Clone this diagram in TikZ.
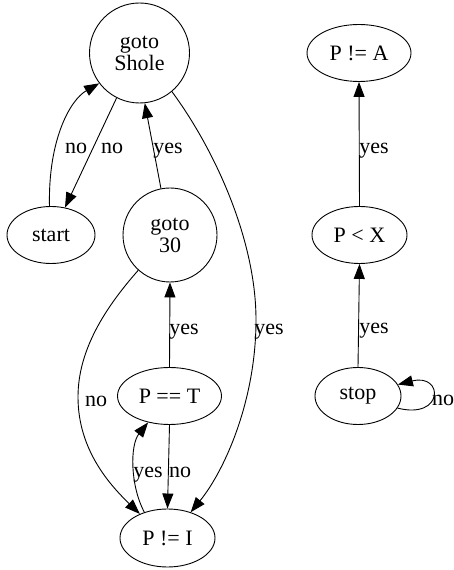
\documentclass[tikz,border=0pt]{standalone}
\usepackage{fontspec}
\setmainfont{Liberation Serif}
\usetikzlibrary{shapes.geometric,arrows.meta}
\begin{document}
\begin{tikzpicture}[x=1pt,y=1pt,
  font=\fontsize{22}{22}\selectfont,
  every node/.style={inner sep=0pt},
  circ/.style={draw, circle, line width=0.9pt, minimum size=#1, align=center},
  ell/.style={draw, ellipse, line width=0.9pt, minimum height=57pt},
  edge/.style={draw, line width=0.9pt, -{Triangle[length=15pt,width=11pt]}},
  lbl/.style={anchor=base}]
\useasboundingbox (0,0) rectangle (454,570);
% nodes
\node[circ=100pt] (gs) at (139.5,517) {goto\\Shole};
\node[circ=94pt] (g30) at (170,335) {goto\\30};
\node[ell, minimum width=88pt] (start) at (51,335) {start};
\node[ell, minimum width=104pt] (peqT) at (169.5,174) {P == T};
\node[ell, minimum width=95pt, minimum height=58pt] (pneI) at (167.5,32) {P != I};
\node[ell, minimum width=104pt] (pneA) at (359,517) {P != A};
\node[ell, minimum width=95pt] (pltX) at (359.5,335) {P < X};
\node[ell, minimum width=86pt] (stop) at (358,174) {stop};
% edges
\draw[edge] (start.93) .. controls (48,430) and (70,470) .. (gs.217);
\draw[edge] (gs.243) -- (start.63);
\draw[edge] (g30.101) -- (gs.276);
\draw[edge] (gs.-50) .. controls (215,420) and (256,330) .. (256,250)
  .. controls (256,170) and (225,100) .. (pneI.48);
\draw[edge] (g30.228) .. controls (105,262) and (78,220) .. (78,173)
  .. controls (78,120) and (110,85) .. (pneI.139);
\draw[edge] (peqT.north) -- (g30.south);
\draw[edge] (peqT.south) -- (pneI.north);
\draw[edge] (pneI.132) .. controls (130,85) and (130,125) .. (peqT.231);
\draw[edge] (pltX.north) -- (pneA.south);
\draw[edge] (stop.north) -- (pltX.south);
\draw[edge] (stop.-17) .. controls (444,150) and (444,197) .. (stop.16);
% labels
\node[lbl] (l1) at (76,416) {no};
\node[lbl] (l2) at (112,416) {no};
\node[lbl] (l3) at (168,416) {yes};
\node[lbl] (l4) at (269,235) {yes};
\node[lbl] (l5) at (184,235) {yes};
\node[lbl] (l6) at (96,163) {no};
\node[lbl] (l7) at (148,92) {yes};
\node[lbl] (l8) at (180,92) {no};
\node[lbl] (l9) at (374,416) {yes};
\node[lbl] (l10) at (374,236) {yes};
\node[lbl] (l11) at (443,164) {no};
\end{tikzpicture}
\end{document}
